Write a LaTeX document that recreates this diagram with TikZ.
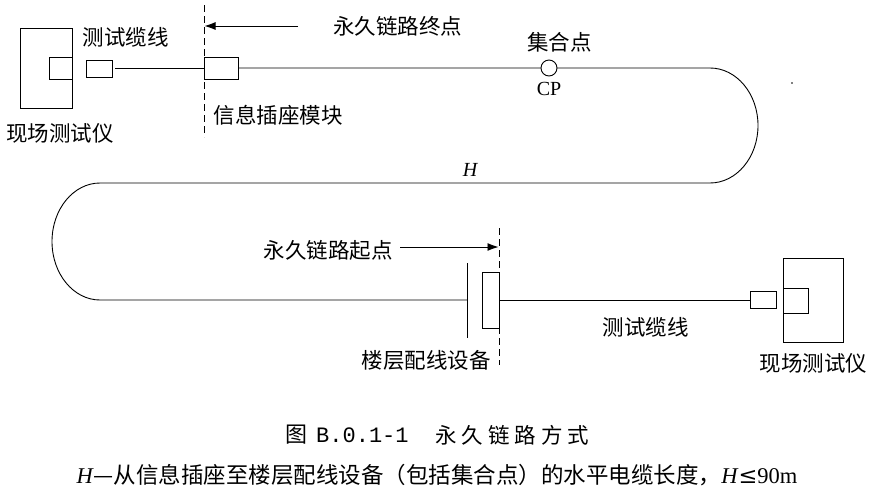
\documentclass[tikz,border=0pt]{standalone}
\usepackage{fontspec}
\setmainfont{Liberation Serif}
\newfontfamily\cjk{Noto Sans CJK SC}
\newfontfamily\capmono{Liberation Mono}
\usetikzlibrary{arrows.meta}
\begin{document}
\begin{tikzpicture}[x=1pt,y=-1pt,
  ln/.style={line width=0.9pt},
  box/.style={draw,line width=0.9pt,inner sep=0pt,minimum width=#1},
  lbl/.style={inner sep=0pt,font=\cjk\fontsize{21.5}{24}\selectfont},
  dsh/.style={line width=0.9pt,dash pattern=on 7pt off 4pt},
  arr/.style={line width=0.9pt,-{Latex[length=11pt,width=8pt]}}
]
\useasboundingbox (0,0) rectangle (873,488);
% left tester
\node[box=52pt,minimum height=80pt] (tl) at (46,68) {};
\node[box=23pt,minimum height=22pt] (tlin) at (60.5,68) {};
\node[box=26pt,minimum height=17pt] (pl1) at (99,68.5) {};
\node[box=34pt,minimum height=22pt] (mod) at (221,68) {};
% loop coordinates
\coordinate (r1) at (710,68);
\coordinate (rr) at (758,125.5);
\coordinate (r2) at (710,183);
\coordinate (l1) at (100,183);
\coordinate (ll) at (52,241.5);
\coordinate (l2) at (100,300);
\coordinate (pvm) at (467,300);
\coordinate (pvt) at (467,263);
\coordinate (pvb) at (467,338);
% cable path
\draw[ln,shorten <=3pt] (pl1.east) -- (pl1.east -| mod.west);
\draw[ln] (mod.east) -- (r1)
  .. controls (736.5,68) and (758,93.7) .. (rr)
  .. controls (758,157.3) and (736.5,183) .. (r2)
  -- (l1)
  .. controls (73.5,183) and (52,209.2) .. (ll)
  .. controls (52,273.8) and (73.5,300) .. (l2)
  -- (pvm);
\node[draw,circle,fill=white,line width=0.9pt,minimum size=16pt,inner sep=0pt] (cp) at (549,68) {};
% panel
\draw[ln] (pvt) -- (pvb);
\node[box=17pt,minimum height=56pt] (pp) at (490.5,300) {};
\node[box=26pt,minimum height=17pt] (pl2) at (763,300) {};
\node[box=60pt,minimum height=84pt] (tr) at (813,300) {};
\node[box=25pt,minimum height=25pt] (trin) at (795.5,300.5) {};
\draw[ln] (pp.east) -- (pl2.west);
% dashed boundaries
\coordinate (d1t) at (204,5);
\coordinate (d1b) at (204,137);
\coordinate (d2t) at (499,228);
\coordinate (d2b) at (499,365);
\draw[dsh] (d1t) -- (d1b);
\draw[dsh] (d2t) -- (d2b);
% arrows
\coordinate (a1s) at (298,26);
\coordinate (a1e) at (204.5,26);
\coordinate (a2s) at (400,247);
\coordinate (a2e) at (498.5,247);
\draw[arr] (a1s) -- (a1e);
\draw[arr] (a2s) -- (a2e);
% labels
\node[lbl] (t1) at (125.5,37) {测试缆线};
\node[lbl] (t2) at (60,133) {现场测试仪};
\node[lbl] (t3) at (278,115) {信息插座模块};
\node[lbl] (t4) at (397.5,26) {永久链路终点};
\node[lbl] (t5) at (559.5,42) {集合点};
\node[inner sep=0pt,font=\fontsize{20}{22}\selectfont] (t6) at (549,89) {CP};
\node[inner sep=0pt,font=\fontsize{20}{22}\selectfont\itshape] (t7) at (470,170) {H};
\node[lbl] (t8) at (328,250) {永久链路起点};
\node[lbl] (t9) at (426,360) {楼层配线设备};
\node[lbl] (t10) at (645.5,327) {测试缆线};
\node[lbl] (t11) at (813.5,363) {现场测试仪};
\fill (792,83) circle (0.8pt);
% caption
\node[inner sep=0pt,anchor=west,font=\fontsize{22}{24}\selectfont] (c1) at (285,435) {{\cjk 图}\hspace{9pt}{\capmono B.0.1-1}};
\node[inner sep=0pt,anchor=west,font=\cjk\fontsize{21.5}{24}\selectfont] (c2) at (435,435) {永\hspace{5pt}久\hspace{5pt}链\hspace{5pt}路\hspace{5pt}方\hspace{5pt}式};
\node[inner sep=0pt,font=\fontsize{22.5}{24}\selectfont] (c3) at (437,475) {\textit{H}{\cjk —从信息插座至楼层配线设备（包括集合点）的水平电缆长度，}\textit{H}{\fontspec{DejaVu Serif}≤}90m};
\end{tikzpicture}
\end{document}
